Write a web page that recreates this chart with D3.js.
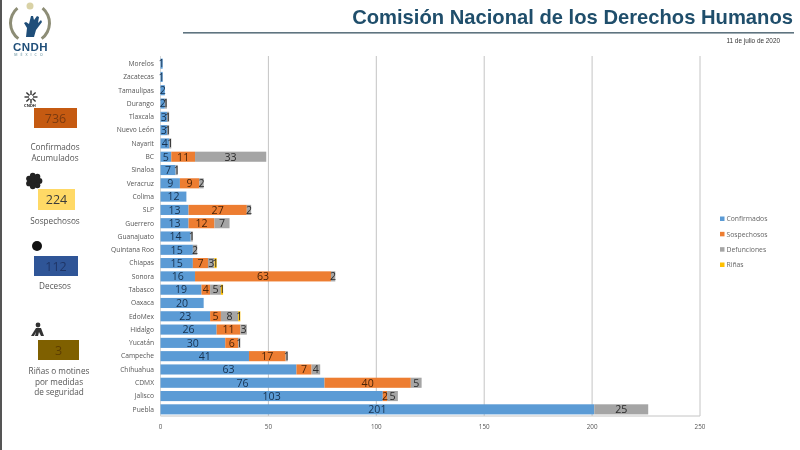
<!DOCTYPE html>
<html>
<head>
<meta charset="utf-8">
<script src="https://cdn.jsdelivr.net/npm/d3@7"></script>
<style>
  html, body { margin: 0; padding: 0; background: #fff; overflow: hidden; }
  svg { display: block; font-family: "Open Sans", sans-serif; filter: blur(0.45px); }
</style>
</head>
<body>
<svg id="chart" width="800" height="450"></svg>
<script>
const states = ["Morelos","Zacatecas","Tamaulipas","Durango","Tlaxcala","Nuevo León","Nayarit","BC","Sinaloa","Veracruz","Colima","SLP","Guerrero","Guanajuato","Quintana Roo","Chiapas","Sonora","Tabasco","Oaxaca","EdoMex","Hidalgo","Yucatán","Campeche","Chihuahua","CDMX","Jalisco","Puebla"]
const confirmados = [1,1,2,2,3,3,4,5,7,9,12,13,13,14,15,15,16,19,20,23,26,30,41,63,76,103,201]
const sospechosos = [0,0,0,0,0,0,0,11,0,9,0,27,12,0,0,7,63,4,0,5,11,6,17,7,40,2,0]
const defunciones = [0,0,0,1,1,1,1,33,1,2,0,2,7,1,2,3,2,5,0,8,3,1,1,4,5,5,25]
const rinas = [0,0,0,0,0,0,0,0,0,0,0,0,0,0,0,1,0,1,0,1,0,0,0,0,0,0,0]
const seriesNames = ["Confirmados","Sospechosos","Defunciones","Riñas"]
const seriesColors = ["#5b9bd5","#ed7d31","#a5a5a5","#ffc000"]
const labelColors = ["#17324f", "#4a2408", "#2b2b2b", "#2b2b2b"]
const xTicks = [0,50,100,150,200,250]

const summaryValues = ["736","224","112","3"]
const summaryColors = ["#c55a11","#ffd966","#2f5597","#7f6000"]
const summaryText = ["#7a3a10","#3a3a3a","#1f3566","#5c3d00"]
const summaryLabels = [["Confirmados","Acumulados"],["Sospechosos"],["Decesos"],["Riñas o motines","por medidas","de seguridad"]]

const svg = d3.select("#chart")

// page frame and header
svg.append("rect").attr("x", 0).attr("y", 0).attr("width", 2).attr("height", 450).attr("fill", "#555")
svg.append("text").attr("x", 793).attr("y", 24).attr("text-anchor", "end")
  .style("font-family", "'Liberation Sans', sans-serif").style("font-weight", "bold")
  .style("font-size", "20.2px").attr("fill", "#1f4e6b").text("Comisión Nacional de los Derechos Humanos")
svg.append("rect").attr("x", 183).attr("y", 32).attr("width", 611).attr("height", 1.6).attr("fill", "#5f7480")
svg.append("text").attr("x", 780).attr("y", 43).attr("text-anchor", "end")
  .style("font-family", "'Liberation Sans', sans-serif").style("font-size", "6.4px").attr("fill", "#333")
  .text("11 de julio de 2020")

// chart
const x = d3.scaleLinear().domain([0, 250]).range([160.5, 700])
const y = d3.scaleBand().domain(states).range([57, 416]).paddingInner(0.24).paddingOuter(0.12)

const chart = svg.append("g")
chart.selectAll("line.grid").data(xTicks.slice(1)).join("line")
  .attr("class", "grid")
  .attr("x1", d => x(d)).attr("x2", d => x(d))
  .attr("y1", 56).attr("y2", 416)
  .attr("stroke", "#c4c4c4").attr("stroke-width", 1)
chart.append("line").attr("x1", x(0)).attr("x2", x(0)).attr("y1", 56).attr("y2", 416).attr("stroke", "#d5d5d5")
chart.append("line").attr("x1", x(0)).attr("x2", x(250)).attr("y1", 416).attr("y2", 416).attr("stroke", "#c4c4c4")

const stack = d3.stack().keys(d3.range(4)).value((d, k) => d[k])
const rows = states.map((s, i) => [confirmados[i], sospechosos[i], defunciones[i], rinas[i]])
const layers = stack(rows)

layers.forEach((layer, k) => {
  const g = chart.append("g")
  layer.forEach((seg, i) => {
    if (seg[1] === seg[0]) return
    g.append("rect")
      .attr("x", x(seg[0])).attr("y", y(states[i]))
      .attr("width", x(seg[1]) - x(seg[0])).attr("height", y.bandwidth())
      .attr("fill", seriesColors[k])
  })
})
layers.forEach((layer, k) => {
  const g = chart.append("g")
  layer.forEach((seg, i) => {
    if (seg[1] === seg[0]) return
    g.append("text")
      .attr("x", (x(seg[0]) + x(seg[1])) / 2)
      .attr("y", y(states[i]) + y.bandwidth() / 2 + 3.8)
      .attr("text-anchor", "middle")
      .style("font-size", "10.6px")
      .attr("fill", labelColors[k])
      .text(seg[1] - seg[0])
  })
})

// state labels and x tick labels
chart.selectAll("text.state").data(states).join("text")
  .attr("class", "state")
  .attr("x", 154).attr("y", d => y(d) + y.bandwidth() / 2 + 2.3)
  .attr("text-anchor", "end").style("font-size", "6.7px").attr("fill", "#555")
  .text(d => d)
chart.selectAll("text.tick").data(xTicks).join("text")
  .attr("class", "tick")
  .attr("x", d => x(d)).attr("y", 429)
  .attr("text-anchor", "middle").style("font-size", "6.3px").attr("fill", "#555")
  .text(d => d)

// legend
const legendY = d3.scalePoint().domain(seriesNames).range([219, 265])
seriesNames.forEach((name, i) => {
  svg.append("rect").attr("x", 720).attr("y", legendY(name) - 2.5).attr("width", 4.5).attr("height", 4.5).attr("fill", seriesColors[i])
  svg.append("text").attr("x", 726.5).attr("y", legendY(name) + 2.3).style("font-size", "6.8px").attr("fill", "#666").text(name)
})

// summary boxes on the left
const boxes = [[34, 108, 43, 20, 55], [38, 189, 37, 21, 55], [34, 256, 44, 20, 55], [38, 340, 41, 20, 59]]
const labelGap = [22, 14, 13, 14]
boxes.forEach((b, i) => {
  svg.append("rect").attr("x", b[0]).attr("y", b[1]).attr("width", b[2]).attr("height", b[3]).attr("fill", summaryColors[i])
  svg.append("text").attr("x", b[0] + b[2] / 2).attr("y", b[1] + b[3] / 2 + 4.5).attr("text-anchor", "middle")
    .style("font-size", "12.5px").attr("fill", summaryText[i]).text(summaryValues[i])
  summaryLabels[i].forEach((line, j) => {
    svg.append("text").attr("x", b[4]).attr("y", b[1] + b[3] + labelGap[i] + j * 10.5)
      .attr("text-anchor", "middle").style("font-size", "8.2px").attr("fill", "#555").text(line)
  })
})

// small icons above the boxes
const star = svg.append("g").attr("transform", "translate(31,97)").attr("stroke", "#333").attr("stroke-width", 1.4)
d3.range(8).forEach(i => {
  const a = i * Math.PI / 4
  star.append("line").attr("x1", 2 * Math.cos(a)).attr("y1", 2 * Math.sin(a)).attr("x2", 6.5 * Math.cos(a)).attr("y2", 6.5 * Math.sin(a))
})
svg.append("text").attr("x", 30).attr("y", 107).attr("text-anchor", "middle").style("font-size", "4px").style("font-weight", "bold").attr("fill", "#222").text("CNDH")

const paw = svg.append("g").attr("transform", "translate(34,181)").attr("fill", "#222")
paw.append("circle").attr("r", 4.5)
d3.range(7).forEach(i => {
  const a = i * 2 * Math.PI / 7
  paw.append("circle").attr("cx", 5.5 * Math.cos(a)).attr("cy", 5.5 * Math.sin(a)).attr("r", 2.9)
})
svg.append("circle").attr("cx", 37).attr("cy", 246).attr("r", 5).attr("fill", "#111")

const fight = svg.append("g").attr("fill", "#333")
fight.append("circle").attr("cx", 38).attr("cy", 325).attr("r", 2.4)
fight.append("path").attr("d", "M31,336 L36,328 L41,328 L44,336 L41,336 L39,332 L38,336 L35,336 L36,332 L34,336 Z")

// logo
const logo = svg.append("g")
const wreath = d3.arc().innerRadius(18).outerRadius(21)
logo.append("path").attr("transform", "translate(30,23)").attr("fill", "#8d8d76")
  .attr("d", wreath({ startAngle: -2.5, endAngle: -0.7 }))
logo.append("path").attr("transform", "translate(30,23)").attr("fill", "#8d8d76")
  .attr("d", wreath({ startAngle: 0.7, endAngle: 2.5 }))
logo.append("circle").attr("cx", 30).attr("cy", 6).attr("r", 3.5).attr("fill", "#d9d2a6")
logo.append("path").attr("fill", "#1f4e79")
  .attr("d", "M26,37 L27,28 L24,23 L26,22 L29,24 L31,16 L33,16 L34,20 L37,16 L39,17 L38,23 L41,20 L42,22 L36,30 L34,37 Z")
logo.append("text").attr("x", 30.5).attr("y", 50.5).attr("text-anchor", "middle")
  .style("font-family", "'Liberation Sans', sans-serif").style("font-weight", "bold").style("font-size", "11.5px")
  .style("letter-spacing", "0.4px").attr("fill", "#1f4e79").text("CNDH")
logo.append("text").attr("x", 30).attr("y", 56).attr("text-anchor", "middle")
  .style("font-size", "3.6px").style("letter-spacing", "3px").attr("fill", "#4f7f8f").text("MÉXICO")
</script>
</body>
</html>
